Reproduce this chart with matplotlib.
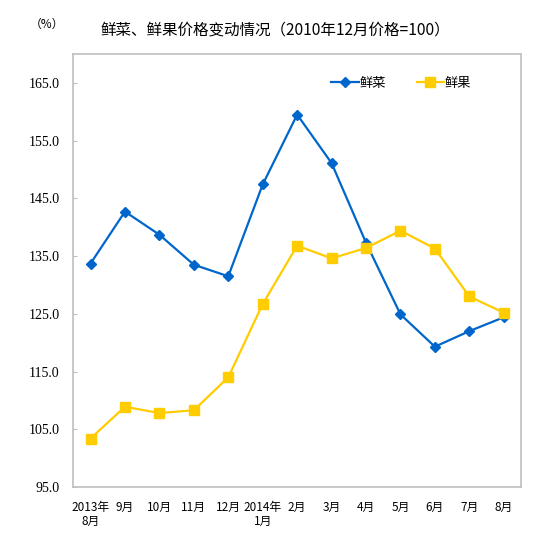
import matplotlib
matplotlib.use("Agg")
import matplotlib.pyplot as plt

plt.rcParams['font.family'] = ['Noto Sans CJK SC', 'DejaVu Sans']

months = ["2013年\n8月", "9月", "10月", "11月", "12月", "2014年\n1月",
          "2月", "3月", "4月", "5月", "6月", "7月", "8月"]
vegetables = [133.7, 142.7, 138.7, 133.5, 131.5, 147.4, 159.5,
              151.1, 137.3, 124.9, 119.3, 122.0, 124.4]
fruits = [103.4, 108.9, 107.8, 108.3, 114.0, 126.7, 136.8,
          134.6, 136.4, 139.4, 136.3, 128.0, 125.2]
y_ticks = [95, 105, 115, 125, 135, 145, 155, 165]

fig = plt.figure(figsize=(5.5, 5.46), dpi=100)
ax = fig.add_axes([73.3 / 550, 1 - 487 / 546, (521 - 73.3) / 550, (487 - 54) / 546])

x = list(range(len(months)))
ax.plot(x, vegetables, color="#0066CC", lw=1.6, marker="D", ms=5, label="鲜菜")
ax.plot(x, fruits, color="#FFCC00", lw=1.6, marker="s", ms=6.5, label="鲜果")

ax.set_xlim(-0.5, len(months) - 0.5)
ax.set_ylim(95, 170)
ax.set_yticks(y_ticks)
ax.set_yticklabels([f"{v:.1f}" for v in y_ticks], family="Liberation Serif", fontsize=10)
ax.set_xticks(x)
ax.set_xticklabels(months, fontsize=8.5, linespacing=1.15)
ax.tick_params(axis="x", length=0, pad=10)
ax.tick_params(axis="y", direction="in", length=3, color="#BFBFBF", pad=10)
for sp in ax.spines.values():
    sp.set_color("#BFBFBF")
    sp.set_linewidth(1.2)

ax.legend(loc="center right", bbox_to_anchor=(478 / 550, 1 - 83 / 546),
          bbox_transform=fig.transFigure, ncol=2, frameon=False, borderpad=0,
          fontsize=9.5, handlelength=2.1, handletextpad=0.05, columnspacing=2.3)

fig.text(275 / 550, 1 - 30 / 546, "鲜菜、鲜果价格变动情况（2010年12月价格=100）",
         ha="center", va="center", fontsize=11.2)
fig.text(47 / 550, 1 - 24 / 546, "（%）", ha="center", va="center", fontsize=8.5)

fig.savefig("out.png", dpi=100)
